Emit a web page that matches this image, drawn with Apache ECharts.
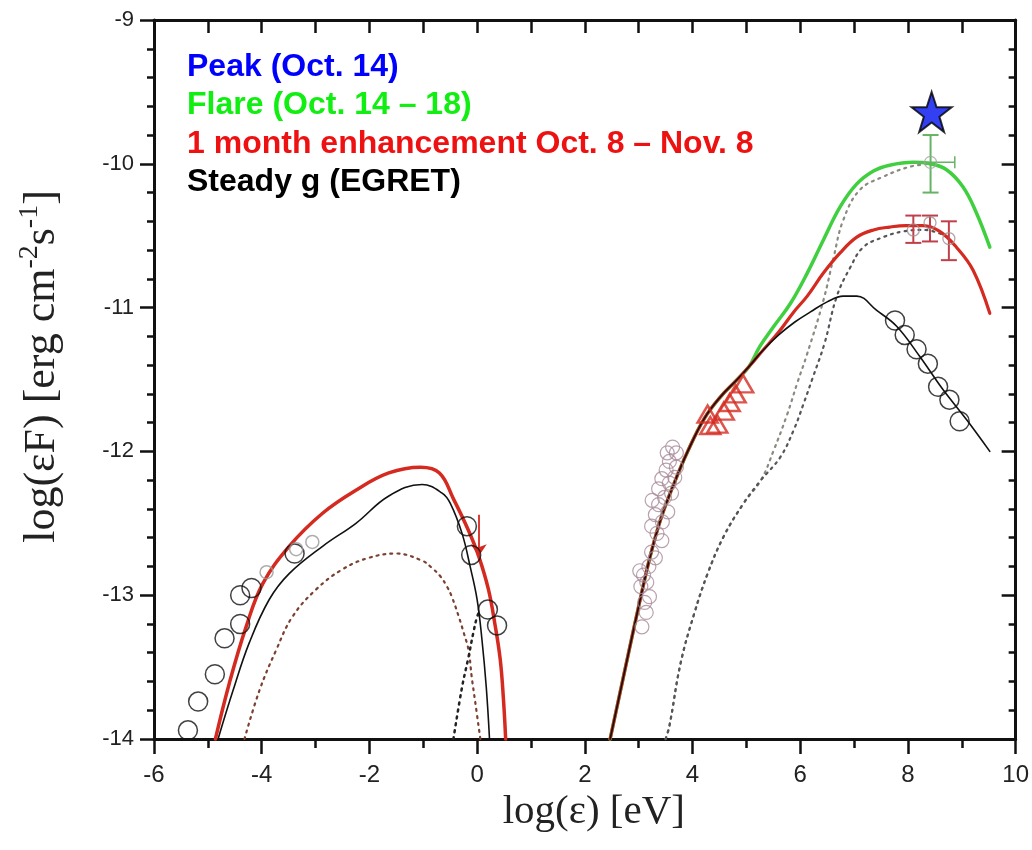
<!DOCTYPE html>
<html>
<head>
<meta charset="utf-8">
<script src="https://cdn.jsdelivr.net/npm/echarts@6/dist/echarts.min.js"></script>
<style>
  html, body { margin: 0; padding: 0; background: #fff; }
  #chart { width: 1032px; height: 850px; }
</style>
</head>
<body>
<div id="chart"></div>
<script>
// SED curves, [log(eps) eV, log(eps F)]
// low-energy hump
const redLow = [[-4.86,-14.0],[-4.60,-13.61],[-4.29,-13.22],[-3.98,-12.92],[-3.49,-12.66],[-2.87,-12.43],[-2.25,-12.27],[-1.64,-12.15],[-1.05,-12.11],[-0.70,-12.15],[-0.44,-12.33],[-0.16,-12.55],[0.03,-12.73],[0.21,-12.96],[0.33,-13.20],[0.43,-13.45],[0.49,-13.73],[0.53,-14.0]];
const blackLow = [[-4.81,-14.0],[-4.53,-13.66],[-4.23,-13.33],[-3.86,-13.03],[-3.49,-12.85],[-2.87,-12.66],[-2.25,-12.50],[-1.64,-12.31],[-1.02,-12.23],[-0.65,-12.29],[-0.50,-12.36],[-0.28,-12.57],[-0.13,-12.80],[0.0,-13.03],[0.09,-13.31],[0.17,-13.64],[0.23,-14.0]];
const syncDotted = [[-4.32,-14.0],[-4.04,-13.66],[-3.73,-13.38],[-3.43,-13.15],[-2.99,-12.96],[-2.50,-12.82],[-2.01,-12.74],[-1.51,-12.71],[-1.02,-12.76],[-0.84,-12.81],[-0.68,-12.87],[-0.56,-12.94],[-0.47,-13.01],[-0.34,-13.15],[-0.25,-13.26],[-0.16,-13.38],[-0.10,-13.57],[-0.04,-13.73],[0.06,-14.0]];
const diskDotted = [[-0.44,-14.0],[-0.28,-13.64],[-0.16,-13.43],[-0.07,-13.26],[0.0,-13.15],[0.06,-13.10]];

// high-energy hump: common rise then three branches
const riseCommon = [[2.47,-14.0],[2.83,-13.37],[3.01,-13.06],[3.20,-12.75],[3.41,-12.47],[3.66,-12.22],[3.91,-12.00],[4.22,-11.77],[4.52,-11.62],[4.83,-11.50],[5.05,-11.41]];
const blackHigh = [[5.30,-11.30],[5.60,-11.19],[5.90,-11.10],[6.19,-11.03],[6.50,-10.96],[6.80,-10.92],[7.05,-10.92],[7.42,-11.02],[7.79,-11.13],[8.22,-11.34],[8.65,-11.57],[9.09,-11.78],[9.52,-12.0]];
const redHigh = [[5.30,-11.30],[5.60,-11.17],[5.88,-11.03],[6.13,-10.92],[6.43,-10.76],[6.74,-10.62],[7.05,-10.51],[7.36,-10.46],[7.66,-10.44],[7.97,-10.43],[8.28,-10.43],[8.59,-10.47],[8.90,-10.58],[9.21,-10.74],[9.52,-11.04]];
const greenHigh = [[5.25,-11.27],[5.51,-11.13],[5.82,-10.97],[6.13,-10.76],[6.43,-10.53],[6.74,-10.30],[7.05,-10.14],[7.36,-10.05],[7.66,-10.01],[8.10,-9.99],[8.41,-10.00],[8.71,-10.04],[9.02,-10.16],[9.27,-10.34],[9.52,-10.58]];
const icDotCommon = [[3.50,-14.0],[3.57,-13.91],[3.78,-13.47],[4.03,-13.13],[4.28,-12.85],[4.58,-12.59],[4.95,-12.36],[5.27,-12.20]];
const icDotFlare = [[5.51,-11.99],[5.76,-11.74],[5.94,-11.53],[6.13,-11.32],[6.43,-10.95],[6.62,-10.65],[6.80,-10.39],[7.11,-10.18],[7.54,-10.09],[8.04,-10.02],[8.41,-10.00]];
const icDotMonth = [[5.63,-12.04],[5.88,-11.85],[6.06,-11.67],[6.22,-11.50],[6.45,-11.25],[6.68,-10.92],[6.93,-10.72],[7.17,-10.58],[7.54,-10.51],[7.91,-10.47],[8.30,-10.46],[8.80,-10.52]];

// observed points
const optCircles = [[-5.37,-13.94],[-5.18,-13.74],[-4.87,-13.55],[-4.69,-13.30],[-4.40,-13.20],[-4.40,-13.00],[-4.19,-12.95],[-3.39,-12.71],[-0.19,-12.52],[-0.11,-12.72],[0.20,-13.10],[0.37,-13.21]];
const optGrey = [[-3.91,-12.84],[-3.36,-12.68],[-3.06,-12.63]];
const xrayCircles = [[3.06,-13.22],[3.14,-13.12],[3.11,-13.05],[3.20,-13.01],[3.04,-12.94],[3.15,-12.91],[3.09,-12.86],[3.02,-12.83],[3.19,-12.80],[3.31,-12.74],[3.24,-12.70],[3.43,-12.62],[3.34,-12.57],[3.24,-12.52],[3.44,-12.49],[3.31,-12.44],[3.54,-12.42],[3.37,-12.37],[3.25,-12.34],[3.48,-12.32],[3.61,-12.29],[3.37,-12.26],[3.57,-12.22],[3.43,-12.19],[3.67,-12.18],[3.51,-12.13],[3.70,-12.11],[3.57,-12.07],[3.53,-12.01],[3.70,-12.01],[3.63,-11.97]];
const uvTriangles = [[4.28,-11.74],[4.33,-11.82],[4.46,-11.81],[4.58,-11.72],[4.69,-11.66],[4.80,-11.60],[4.94,-11.53]];
const egretCircles = [[7.76,-11.09],[7.94,-11.19],[8.16,-11.29],[8.37,-11.39],[8.56,-11.55],[8.77,-11.64],[8.96,-11.79]];
const monthPoints = [[8.10,-10.46,-10.55,-10.36],[8.41,-10.41,-10.54,-10.36],[8.76,-10.52,-10.67,-10.40]];
const flarePoint = [[8.42,-9.99,-10.20,-9.80,8.10,8.87]];
const peakPoint = [[8.44,-9.64]];
const opticalLimit = [0.03, -12.44, -12.73];

const legendLines = ['Peak (Oct. 14)', 'Flare (Oct. 14 – 18)', '1 month enhancement Oct. 8 – Nov. 8', 'Steady g (EGRET)'];
const legendColors = ['#0000ff', '#11ee11', '#ee1111', '#000000'];

const xTicks = { min: -6, max: 10, step: 2 };
const yTicks = { min: -14, max: -9, step: 1 };

const RED = '#d42a20', GREEN = '#3fcf3f';
const starPath = 'path://M50,2 L61.8,36.2 L97.6,36.2 L68.6,57.4 L79.6,91.6 L50,70.4 L20.4,91.6 L31.4,57.4 L2.4,36.2 L38.2,36.2 Z';

const chart = echarts.init(document.getElementById('chart'), null, { renderer: 'canvas' });

function lineSeries(data, color, width, dash, z) {
  return {
    type: 'line', data: data, showSymbol: false, symbol: 'none',
    smooth: 0.4, clip: false, z: z || 3,
    lineStyle: { color: color, width: width, type: dash || 'solid', cap: 'round', join: 'round' },
    silent: true, animation: false
  };
}

function errorBars(data, color, capW) {
  return {
    type: 'custom', data: data, z: 6, animation: false, silent: true,
    renderItem: function (params, api) {
      const x = api.value(0);
      const lo = api.coord([x, api.value(2)]);
      const hi = api.coord([x, api.value(3)]);
      const st = { stroke: color, lineWidth: 2 };
      const kids = [
        { type: 'line', shape: { x1: lo[0], y1: lo[1], x2: hi[0], y2: hi[1] }, style: st },
        { type: 'line', shape: { x1: lo[0] - capW, y1: lo[1], x2: lo[0] + capW, y2: lo[1] }, style: st },
        { type: 'line', shape: { x1: hi[0] - capW, y1: hi[1], x2: hi[0] + capW, y2: hi[1] }, style: st }
      ];
      if (api.value(4) !== undefined && !isNaN(api.value(4))) {
        const l = api.coord([api.value(4), api.value(1)]);
        const r = api.coord([api.value(5), api.value(1)]);
        kids.push({ type: 'line', shape: { x1: l[0], y1: l[1], x2: r[0], y2: r[1] }, style: { stroke: color, lineWidth: 1.5 } });
        kids.push({ type: 'line', shape: { x1: r[0], y1: r[1] - 6, x2: r[0], y2: r[1] + 6 }, style: { stroke: color, lineWidth: 1.5 } });
      }
      return { type: 'group', children: kids };
    }
  };
}

const axisLineStyle = { onZero: false, lineStyle: { color: '#111', width: 3 } };
const tickStyle = { color: '#111', width: 2.5 };

const option = {
  backgroundColor: '#fff',
  animation: false,
  grid: { left: 154, right: 13, top: 20, bottom: 111 },
  xAxis: [
    {
      type: 'value', position: 'bottom', min: xTicks.min, max: xTicks.max, interval: xTicks.step,
      name: 'log(ε) [eV]', nameLocation: 'middle', nameGap: 34,
      nameTextStyle: { fontFamily: 'Liberation Serif', fontSize: 41, color: '#222', padding: [0, 0, 0, 18] },
      axisLine: axisLineStyle,
      axisTick: { inside: false, length: 15, lineStyle: tickStyle },
      minorTick: { show: true, splitNumber: 2, length: 9, lineStyle: tickStyle },
      axisLabel: { fontFamily: 'Liberation Sans', fontSize: 24, color: '#222', margin: 24 },
      splitLine: { show: false }
    },
    {
      type: 'value', position: 'top', min: xTicks.min, max: xTicks.max, interval: 1,
      axisLine: axisLineStyle,
      axisTick: { inside: true, length: 13, lineStyle: tickStyle },
      axisLabel: { show: false }, splitLine: { show: false }
    }
  ],
  yAxis: [
    {
      type: 'value', position: 'left', min: yTicks.min, max: yTicks.max, interval: yTicks.step,
      name: '{n|log(εF) [erg cm}{s|-2}{n|s}{s|-1}{n|]}', nameLocation: 'middle', nameGap: 86, nameRotate: 90,
      nameTextStyle: {
        padding: [0, 0, 0, 26],
        rich: {
          n: { fontFamily: 'Liberation Serif', fontSize: 44, color: '#222', lineHeight: 52 },
          s: { fontFamily: 'Liberation Serif', fontSize: 28, color: '#222', lineHeight: 52, verticalAlign: 'top' }
        }
      },
      axisLine: axisLineStyle,
      axisTick: { inside: false, length: 14, lineStyle: tickStyle },
      minorTick: { show: true, splitNumber: 5, length: 7, lineStyle: tickStyle },
      axisLabel: { fontFamily: 'Liberation Sans', fontSize: 22, color: '#222', margin: 20 },
      splitLine: { show: false }
    },
    {
      type: 'value', position: 'right', min: yTicks.min, max: yTicks.max, interval: yTicks.step,
      axisLine: axisLineStyle,
      axisTick: { inside: true, length: 14, lineStyle: tickStyle },
      minorTick: { show: true, splitNumber: 5, length: 7, lineStyle: tickStyle },
      axisLabel: { show: false }, splitLine: { show: false }
    }
  ],
  graphic: legendLines.map(function (t, i) {
    return { type: 'text', left: 187, top: 51 + i * 38.5, z: 10,
      style: { text: t, fill: legendColors[i], font: 'bold 32px "Liberation Sans"' } };
  }),
  series: [
    lineSeries(syncDotted, '#7a4030', 2.2, [2, 5]),
    lineSeries(diskDotted, '#222', 2.5, [2, 5]),
    lineSeries(icDotCommon.concat(icDotFlare), '#8a8a80', 2.2, [2, 5]),
    lineSeries(icDotCommon.concat(icDotMonth), '#555', 2.2, [2, 5]),
    lineSeries(blackLow, '#111', 1.6, 'solid', 4),
    lineSeries(redLow, RED, 3.5, 'solid', 5),
    lineSeries(riseCommon.concat(greenHigh), GREEN, 3.5, 'solid', 4),
    lineSeries(riseCommon.concat(redHigh), RED, 3.2, 'solid', 5),
    lineSeries(riseCommon.concat(blackHigh), '#111', 1.6, 'solid', 6),
    {
      type: 'scatter', data: optCircles, symbol: 'circle', symbolSize: 19, z: 7,
      itemStyle: { color: 'rgba(0,0,0,0)', borderColor: '#111', borderWidth: 1.5 }
    },
    {
      type: 'scatter', data: optGrey, symbol: 'circle', symbolSize: 13, z: 7,
      itemStyle: { color: 'rgba(0,0,0,0)', borderColor: '#999', borderWidth: 1.5 }
    },
    {
      type: 'scatter', data: xrayCircles, symbol: 'circle', symbolSize: 14, z: 7,
      itemStyle: { color: 'rgba(0,0,0,0)', borderColor: '#a88a98', borderWidth: 1.2 }
    },
    {
      type: 'scatter', data: uvTriangles, symbol: 'triangle', symbolSize: [20, 17], z: 7,
      itemStyle: { color: 'rgba(0,0,0,0)', borderColor: '#d42a20', borderWidth: 2.5 }
    },
    {
      type: 'scatter', data: egretCircles, symbol: 'circle', symbolSize: 19, z: 7,
      itemStyle: { color: 'rgba(0,0,0,0)', borderColor: '#111', borderWidth: 1.5 }
    },
    {
      type: 'scatter', data: monthPoints.map(p => [p[0], p[1]]), symbol: 'circle', symbolSize: 12, z: 7,
      itemStyle: { color: 'rgba(0,0,0,0)', borderColor: '#a09090', borderWidth: 1.3 }
    },
    errorBars(monthPoints, '#c0404a', 8),
    {
      type: 'scatter', data: flarePoint.map(p => [p[0], p[1]]), symbol: 'circle', symbolSize: 12, z: 7,
      itemStyle: { color: 'rgba(0,0,0,0)', borderColor: '#a0a8a0', borderWidth: 1.3 }
    },
    errorBars(flarePoint, '#66b366', 8),
    {
      type: 'scatter', data: peakPoint, symbol: starPath, symbolSize: 40, z: 8,
      itemStyle: { color: '#0010ee', borderColor: '#000', borderWidth: 2 }
    },
    {
      type: 'line', data: [], z: 8,
      markLine: {
        silent: true, animation: false, symbol: ['none', 'arrow'], symbolSize: 12,
        label: { show: false },
        lineStyle: { color: RED, width: 1.8, type: 'solid' },
        data: [[{ coord: [opticalLimit[0], opticalLimit[1]] }, { coord: [opticalLimit[0], opticalLimit[2]] }]]
      }
    }
  ]
};
chart.setOption(option);
</script>
</body>
</html>
